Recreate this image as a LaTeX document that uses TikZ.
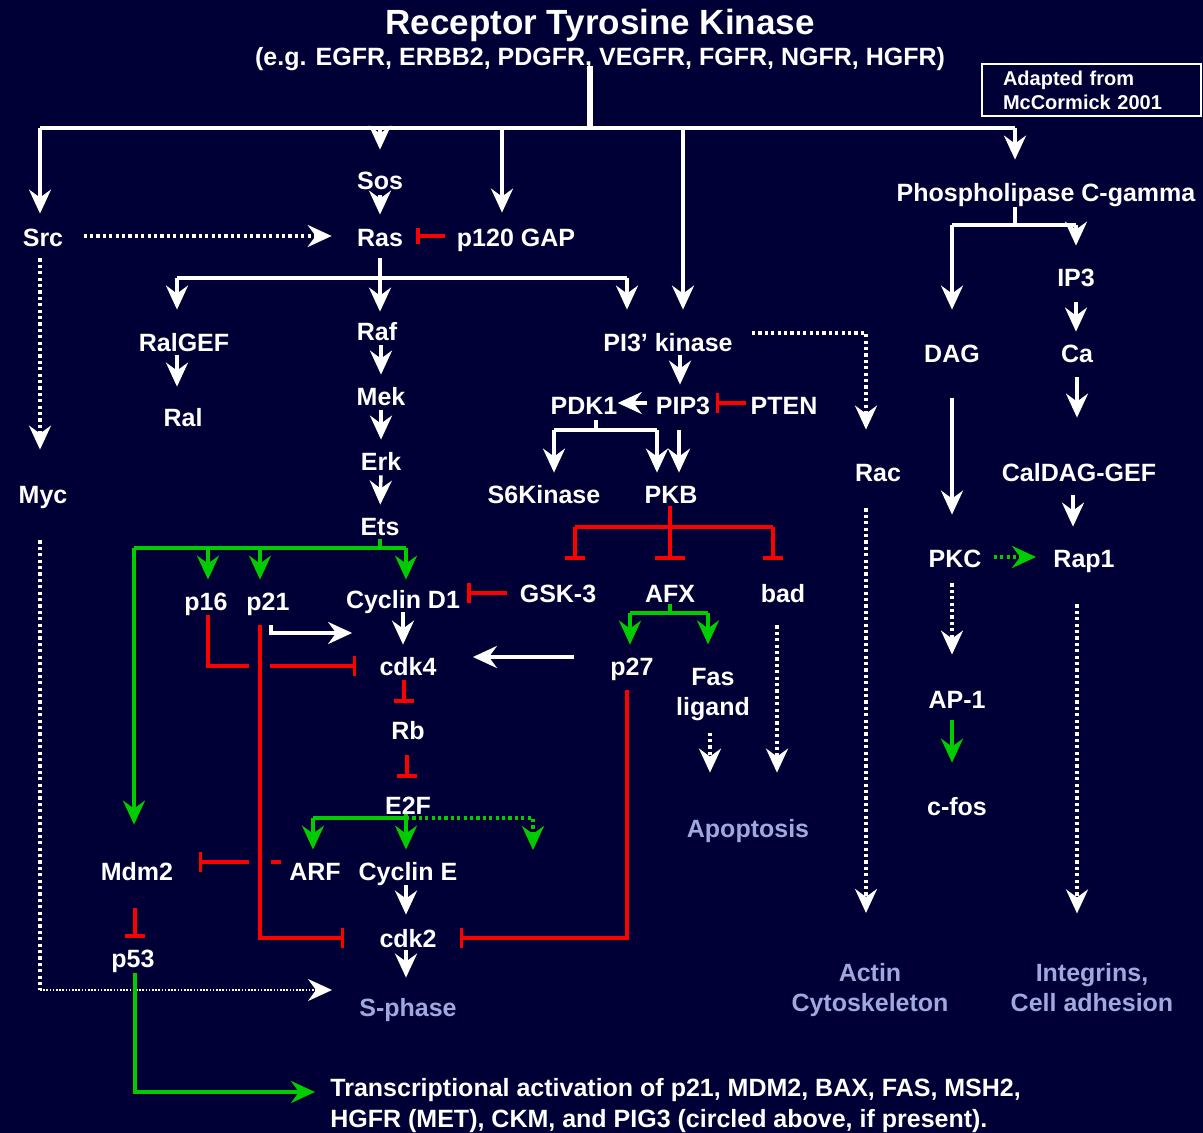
\documentclass[tikz,border=0pt]{standalone}
\usepackage{fontspec}
\setmainfont{Liberation Sans}
\usetikzlibrary{arrows.meta}

\definecolor{bgnavy}{RGB}{0,0,54}
\definecolor{actgreen}{RGB}{0,204,0}
\definecolor{inhred}{RGB}{255,0,0}
\definecolor{outlav}{RGB}{160,168,224}

\tikzset{
  lbl/.style={text=white, font=\fontsize{12.5}{15}\selectfont\bfseries,
    text height=9pt, text depth=0pt, inner sep=0pt},
  lbltwo/.style={text=white, font=\fontsize{12.5}{15}\selectfont\bfseries,
    align=center, inner sep=0pt},
  outcome/.style={lbl, text=outlav},
  outtwo/.style={lbltwo, text=outlav},
  wline/.style={draw=white, line width=1.75pt},
  act/.style={wline, -{Stealth[length=12pt,width=11pt,inset=4pt]}},
  dotact/.style={act, dash pattern=on 1.6pt off 1.6pt},
  gline/.style={draw=actgreen, line width=1.75pt},
  gact/.style={gline, -{Stealth[length=12pt,width=11pt,inset=4pt]}},
  rline/.style={draw=inhred, line width=1.75pt},
  inh/.style={rline, -{Bar[width=10pt]}},
}

\begin{document}
\begin{tikzpicture}[x=0.5pt,y=-0.5pt]
  \fill[bgnavy] (0,0) rectangle (1203,1133);
  \useasboundingbox (0,0) rectangle (1203,1133);

  % receptor and note
  \node[lbl, font=\fontsize{17.5}{20}\selectfont\bfseries, text height=12.5pt] (rtk) at (600,22) {Receptor Tyrosine Kinase};
  \node[lbl] (egs) at (600,57) {(e.g. EGFR, ERBB2, PDGFR, VEGFR, FGFR, NGFR, HGFR)};
  \node[draw=white, line width=1pt, text=white, font=\fontsize{10}{12}\selectfont\bfseries,
    align=left, text width=88.5pt, inner xsep=10.5pt, inner ysep=0pt, minimum height=26pt]
    (note) at (1091.5,90) {Adapted from\\McCormick 2001};

  % proteins
  \node[lbl] (src) at (43,238) {Src};
  \node[lbl] (sos) at (380,181) {Sos};
  \node[lbl] (ras) at (380,238) {Ras};
  \node[lbl] (gap) at (516,238) {p120 GAP};
  \node[lbl] (ralgef) at (184,343) {RalGEF};
  \node[lbl] (ral) at (183,418) {Ral};
  \node[lbl] (raf) at (377,332) {Raf};
  \node[lbl] (mek) at (381,397) {Mek};
  \node[lbl] (erk) at (381,461) {Erk};
  \node[lbl] (ets) at (380,526) {Ets};
  \node[lbl] (myc) at (43,494) {Myc};
  \node[lbl] (pik) at (668,343) {PI3’ kinase};
  \node[lbl] (pip) at (683,406) {PIP3};
  \node[lbl] (pdk) at (584,406) {PDK1};
  \node[lbl] (pten) at (784,406) {PTEN};
  \node[lbl] (s6k) at (544,494) {S6Kinase};
  \node[lbl] (pkb) at (671,494) {PKB};
  \node[lbl] (rac) at (878,472) {Rac};
  \node[lbl] (plc) at (1046,193) {Phospholipase C-gamma};
  \node[lbl] (ip3) at (1076,278) {IP3};
  \node[lbl] (ca) at (1077,354) {Ca};
  \node[lbl] (dag) at (952,354) {DAG};
  \node[lbl] (caldag) at (1079,472) {CalDAG-GEF};
  \node[lbl] (pkc) at (955,558) {PKC};
  \node[lbl] (rap) at (1084,558) {Rap1};
  \node[lbl] (ap) at (957,699) {AP-1};
  \node[lbl] (cfos) at (957,806) {c-fos};
  \node[lbl] (gsk) at (558,593) {GSK-3};
  \node[lbl] (afx) at (670,593) {AFX};
  \node[lbl] (bad) at (783,593) {bad};
  \node[lbl] (p16) at (206,601) {p16};
  \node[lbl] (p21) at (268,601) {p21};
  \node[lbl] (cycd) at (403,599) {Cyclin D1};
  \node[lbl] (cdk4) at (408,666) {cdk4};
  \node[lbl] (p27) at (632,666) {p27};
  \node[lbltwo] (fas) at (713,695) {Fas\\ligand};
  \node[lbl] (rb) at (408,730) {Rb};
  \node[lbl] (e2f) at (408,805) {E2F};
  \node[lbl] (mdm) at (137,871) {Mdm2};
  \node[lbl] (arf) at (315,871) {ARF};
  \node[lbl] (cyce) at (408,871) {Cyclin E};
  \node[lbl] (cdk2) at (408,938) {cdk2};
  \node[lbl] (p53) at (133,958) {p53};

  % outcomes
  \node[outcome] (sphase) at (408,1007) {S-phase};
  \node[outcome] (apop) at (748,828) {Apoptosis};
  \node[outtwo] (actin) at (870,990) {Actin\\Cytoskeleton};
  \node[outtwo] (integ) at (1092,988) {Integrins,\\Cell adhesion};
  \node[lbltwo, align=left, anchor=north west, font=\fontsize{12.5}{15.5}\selectfont\bfseries]
    (trans) at (330,1078) {Transcriptional activation of p21, MDM2, BAX, FAS, MSH2,\\HGFR (MET), CKM, and PIG3 (circled above, if present).};

  % receptor fan-out
  \coordinate (bus) at (590,128);
  \coordinate (busL) at (40,128);
  \coordinate (busR) at (1015,128);
  \draw[wline, line width=3pt] (egs.south -| bus) -- (bus);
  \draw[wline] (busL) -- (busR);
  \draw[act, shorten >=7.5pt] (busL) -- (busL |- src.north);
  \draw[act, shorten >=11pt] (bus -| sos) -- (sos.north);
  \draw[act, shorten >=8pt] ([xshift=-7pt]gap.north |- bus) -- ([xshift=-7pt]gap.north);
  \draw[act, shorten >=12pt] ([xshift=7.5pt]pik.north |- bus) -- ([xshift=7.5pt]pik.north);
  \draw[act, shorten >=12pt] (busR) -- (busR |- plc.north);

  % Ras branch
  \draw[act, shorten <=2.5pt, shorten >=7pt] (sos.south) -- (ras.north);
  \draw[inh, -{Bar[width=8pt]}, shorten <=6pt, shorten >=6.5pt] ([yshift=1pt]gap.west) -- ([yshift=1pt]gap.west -| ras.east);
  \draw[dotact, shorten <=10pt, shorten >=12.5pt] ([yshift=1pt]src.east) -- ([yshift=1pt]src.east -| ras.west);
  \coordinate (rasbus) at (380,278);
  \draw[wline, shorten <=5.5pt] (ras.south) -- (rasbus);
  \draw[wline] ([xshift=-3.5pt]ralgef.north |- rasbus) -- ([xshift=-20.5pt]pik.north |- rasbus);
  \draw[act, shorten >=12pt] ([xshift=-3.5pt]ralgef.north |- rasbus) -- ([xshift=-3.5pt]ralgef.north);
  \draw[act, shorten >=5.5pt] (rasbus) -- (rasbus |- raf.north);
  \draw[act, shorten >=12pt] ([xshift=-20.5pt]pik.north |- rasbus) -- ([xshift=-20.5pt]pik.north);
  \draw[act, shorten <=1.5pt, shorten >=11pt] ([xshift=-3.5pt]ralgef.south) -- ([xshift=-3.5pt]ralgef.south |- ral.north);
  \draw[act, shorten <=2pt, shorten >=6.5pt] (raf.south -| mek) -- (mek.north);
  \draw[act, shorten <=2pt, shorten >=6pt] (mek.south) -- (erk.north);
  \draw[act, shorten <=2.5pt, shorten >=6pt] (erk.south) -- (ets.north);

  % Src, Myc
  \draw[dotact, shorten <=5.5pt, shorten >=17.5pt] ([xshift=-1.5pt]src.south) -- ([xshift=-1.5pt]myc.north);
  \coordinate (mycturn) at (40,990);
  \draw[wline, dash pattern=on 1.6pt off 1.6pt, shorten <=18.5pt] ([xshift=-1.5pt]myc.south) -- (mycturn);
  \draw[act, line width=0.8pt, dash pattern=on 0.8pt off 0.8pt, shorten >=13.5pt] (mycturn) -- (mycturn -| sphase.west);

  % PI3 kinase branch
  \draw[act, shorten <=1.5pt, shorten >=6pt] ([xshift=-1.5pt]pip.north |- pik.south) -- ([xshift=-1.5pt]pip.north);
  \draw[dotact, shorten <=9.5pt, shorten >=16.5pt] ([yshift=5pt]pik.east) -| ([xshift=-6pt]rac.north);
  \draw[act, shorten <=4.5pt] ([yshift=1.5pt]pip.west) -- ([yshift=1.5pt]pip.west -| pdk.east);
  \draw[inh, shorten <=2pt, shorten >=2.5pt] ([yshift=1.5pt]pten.west) -- ([yshift=1.5pt]pten.west -| pip.east);
  \coordinate (pdkbus) at (596,430);
  \draw[wline, shorten <=2.5pt] (pdkbus |- pdk.south) -- (pdkbus);
  \draw[wline] ([xshift=5pt]s6k.north |- pdkbus) -- ([xshift=-7pt]pkb.north |- pdkbus);
  \draw[act, shorten >=6pt] ([xshift=5pt]s6k.north |- pdkbus) -- ([xshift=5pt]s6k.north);
  \draw[act, shorten >=6pt] ([xshift=-7pt]pkb.north |- pdkbus) -- ([xshift=-7pt]pkb.north);
  \draw[act, shorten <=7.5pt, shorten >=6pt] ([xshift=-2pt]pip.south) -- ([xshift=-2pt]pip.south |- pkb.north);

  % PKB targets
  \coordinate (pkbbus) at (670,527);
  \draw[rline, shorten <=1.5pt] (pkbbus |- pkb.south) -- (pkbbus);
  \draw[rline] ([xshift=8.5pt]gsk.north |- pkbbus) -- ([xshift=-5pt]bad.north |- pkbbus);
  \draw[inh, shorten >=12pt] ([xshift=8.5pt]gsk.north |- pkbbus) -- ([xshift=8.5pt]gsk.north);
  \draw[inh, -{Bar[width=15pt]}, shorten >=12pt] (pkbbus) -- (afx.north);
  \draw[inh, shorten >=12pt] ([xshift=-5pt]bad.north |- pkbbus) -- ([xshift=-5pt]bad.north);
  \draw[inh, shorten <=6pt, shorten >=3.5pt] (gsk.west) -- (gsk.west -| cycd.east);
  \coordinate (afxbus) at (670,613);
  \draw[gline, shorten <=1pt] (afx.south) -- (afxbus);
  \draw[gline] ([xshift=-1pt]p27.north |- afxbus) -- ([xshift=-2.5pt]fas.north |- afxbus);
  \draw[gact, shorten >=6pt] ([xshift=-1pt]p27.north |- afxbus) -- ([xshift=-1pt]p27.north);
  \draw[gact, shorten >=12pt] ([xshift=-2.5pt]fas.north |- afxbus) -- ([xshift=-2.5pt]fas.north);
  \draw[act, shorten <=18pt, shorten >=18pt] ([yshift=4.5pt]p27.west) -- ([yshift=4.5pt]p27.west -| cdk4.east);
  \draw[inh, shorten <=7.5pt, shorten >=11.5pt] ([xshift=-2.5pt]p27.south) |- (cdk2.east);
  \draw[dotact, shorten <=5.5pt, shorten >=23pt] ([xshift=-1.5pt]fas.south) -- ([xshift=-1.5pt]fas.south |- apop.north);
  \draw[dotact, shorten <=11.5pt, shorten >=23pt] ([xshift=-3pt]bad.south) -- ([xshift=-3pt]bad.south |- apop.north);
  \draw[dotact, shorten <=13.5pt, shorten >=25pt] ([xshift=-6pt]rac.south) -- ([xshift=-6pt]rac.south |- actin.north);

  % phospholipase branch
  \coordinate (plcbus) at (1015,225);
  \draw[wline, shorten <=2.5pt] (plcbus |- plc.south) -- (plcbus);
  \draw[wline] (plcbus -| dag) -- (plcbus -| ip3);
  \draw[act, shorten >=17.5pt] (plcbus -| dag) -- (dag.north);
  \draw[act, shorten >=11.5pt] (plcbus -| ip3) -- (ip3.north);
  \draw[act, shorten <=7.5pt, shorten >=6.5pt] (ip3.south) -- (ip3.south |- ca.north);
  \draw[act, shorten <=7pt, shorten >=22.5pt] (ca.south) -- (ca.south |- caldag.north);
  \draw[act, shorten <=7pt, shorten >=11pt] ([xshift=-3pt]caldag.south) -- ([xshift=-3pt]caldag.south |- rap.north);
  \draw[act, shorten <=17.5pt, shorten >=17pt] (dag.south) -- (dag.south |- pkc.north);
  \draw[gact, dash pattern=on 1.6pt off 1.6pt, shorten <=6pt, shorten >=8.5pt] ([yshift=0.5pt]pkc.east) -- ([yshift=0.5pt]pkc.east -| rap.west);
  \draw[dotact, shorten <=8pt, shorten >=17.5pt] ([xshift=-1.5pt]pkc.south) -- ([xshift=-1.5pt]pkc.south |- ap.north);
  \draw[gact, shorten <=6pt, shorten >=17pt] ([xshift=-2.5pt]ap.south) -- ([xshift=-2.5pt]ap.south |- cfos.north);
  \draw[dotact, shorten <=18.5pt, shorten >=25pt] ([xshift=-3.5pt]rap.south) -- ([xshift=-3.5pt]rap.south |- integ.north);

  % Ets targets
  \coordinate (etsbus) at (380,548);
  \draw[gline, shorten <=2pt] (ets.south) -- (etsbus);
  \draw[gline] ([xshift=-1.5pt]mdm.north |- etsbus) -- ([xshift=1.5pt]cycd.north |- etsbus);
  \draw[gact, shorten >=6pt] ([xshift=1pt]p16.north |- etsbus) -- ([xshift=1pt]p16.north);
  \draw[gact, shorten >=6pt] ([xshift=-4pt]p21.north |- etsbus) -- ([xshift=-4pt]p21.north);
  \draw[gact, shorten >=5pt] ([xshift=1.5pt]cycd.north |- etsbus) -- ([xshift=1.5pt]cycd.north);
  \draw[gact, shorten >=18.5pt] ([xshift=-1.5pt]mdm.north |- etsbus) -- ([xshift=-1.5pt]mdm.north);

  % cell cycle
  \draw[act, shorten <=7.5pt, shorten >=13.5pt] ([xshift=1.5pt]p21.south) |- ([yshift=16.5pt]cdk4.west);
  \draw[act, shorten <=2pt, shorten >=6pt] (cycd.south) -- (cycd.south |- cdk4.north);
  \draw[rline, shorten <=2.5pt] ([xshift=1pt]p16.south) |- ([xshift=-65pt]cdk4.west);
  \draw[inh, shorten >=11.5pt] ([xshift=-54.5pt]cdk4.west) -- (cdk4.west);
  \draw[inh, shorten <=7.5pt, shorten >=17.5pt] ([xshift=-4pt]p21.south) |- (cdk2.west);
  \draw[inh, shorten <=2.5pt, shorten >=9pt] ([xshift=-2pt]cdk4.south) -- ([xshift=-2pt]cdk4.south |- rb.north);
  \draw[inh, shorten <=8pt, shorten >=9pt] ([xshift=-0.5pt]rb.south) -- ([xshift=-0.5pt]rb.south |- e2f.north);
  \coordinate (e2fbus) at (406,818);
  \coordinate (e2fx) at (533,850);
  \draw[gline] (e2f.south -| e2fbus) -- (e2fbus);
  \draw[gline] ([xshift=-1pt]arf.north |- e2fbus) -- (e2fbus);
  \draw[gact, shorten >=6pt] ([xshift=-1pt]arf.north |- e2fbus) -- ([xshift=-1pt]arf.north);
  \draw[gact, shorten >=6pt] (e2fbus) -- (e2fbus |- cyce.north);
  \draw[gact, dash pattern=on 1.6pt off 1.6pt] (e2fbus) -| (e2fx);
  \draw[rline] ([xshift=-4pt,yshift=4.5pt]arf.west) -- ([xshift=-9pt,yshift=4.5pt]arf.west);
  \draw[inh, shorten >=12.5pt] ([xshift=-20pt,yshift=4.5pt]arf.west) -- ([yshift=4.5pt]mdm.east);
  \draw[act, shorten <=2.5pt, shorten >=7pt] ([xshift=-1pt]cyce.south) -- ([xshift=-1pt]cyce.south |- cdk2.north);
  \draw[act, shorten <=1.5pt, shorten >=10pt] ([xshift=-1pt]cdk2.south) -- ([xshift=-1pt]cdk2.south |- sphase.north);
  \draw[inh, shorten <=14pt, shorten >=5.5pt] ([xshift=-1pt]mdm.south) -- ([xshift=-1pt]mdm.south |- p53.north);
  \draw[gact, shorten <=3pt, shorten >=7.5pt] ([xshift=1pt]p53.south) |- ([yshift=-7pt]trans.north west);
\end{tikzpicture}
\end{document}
